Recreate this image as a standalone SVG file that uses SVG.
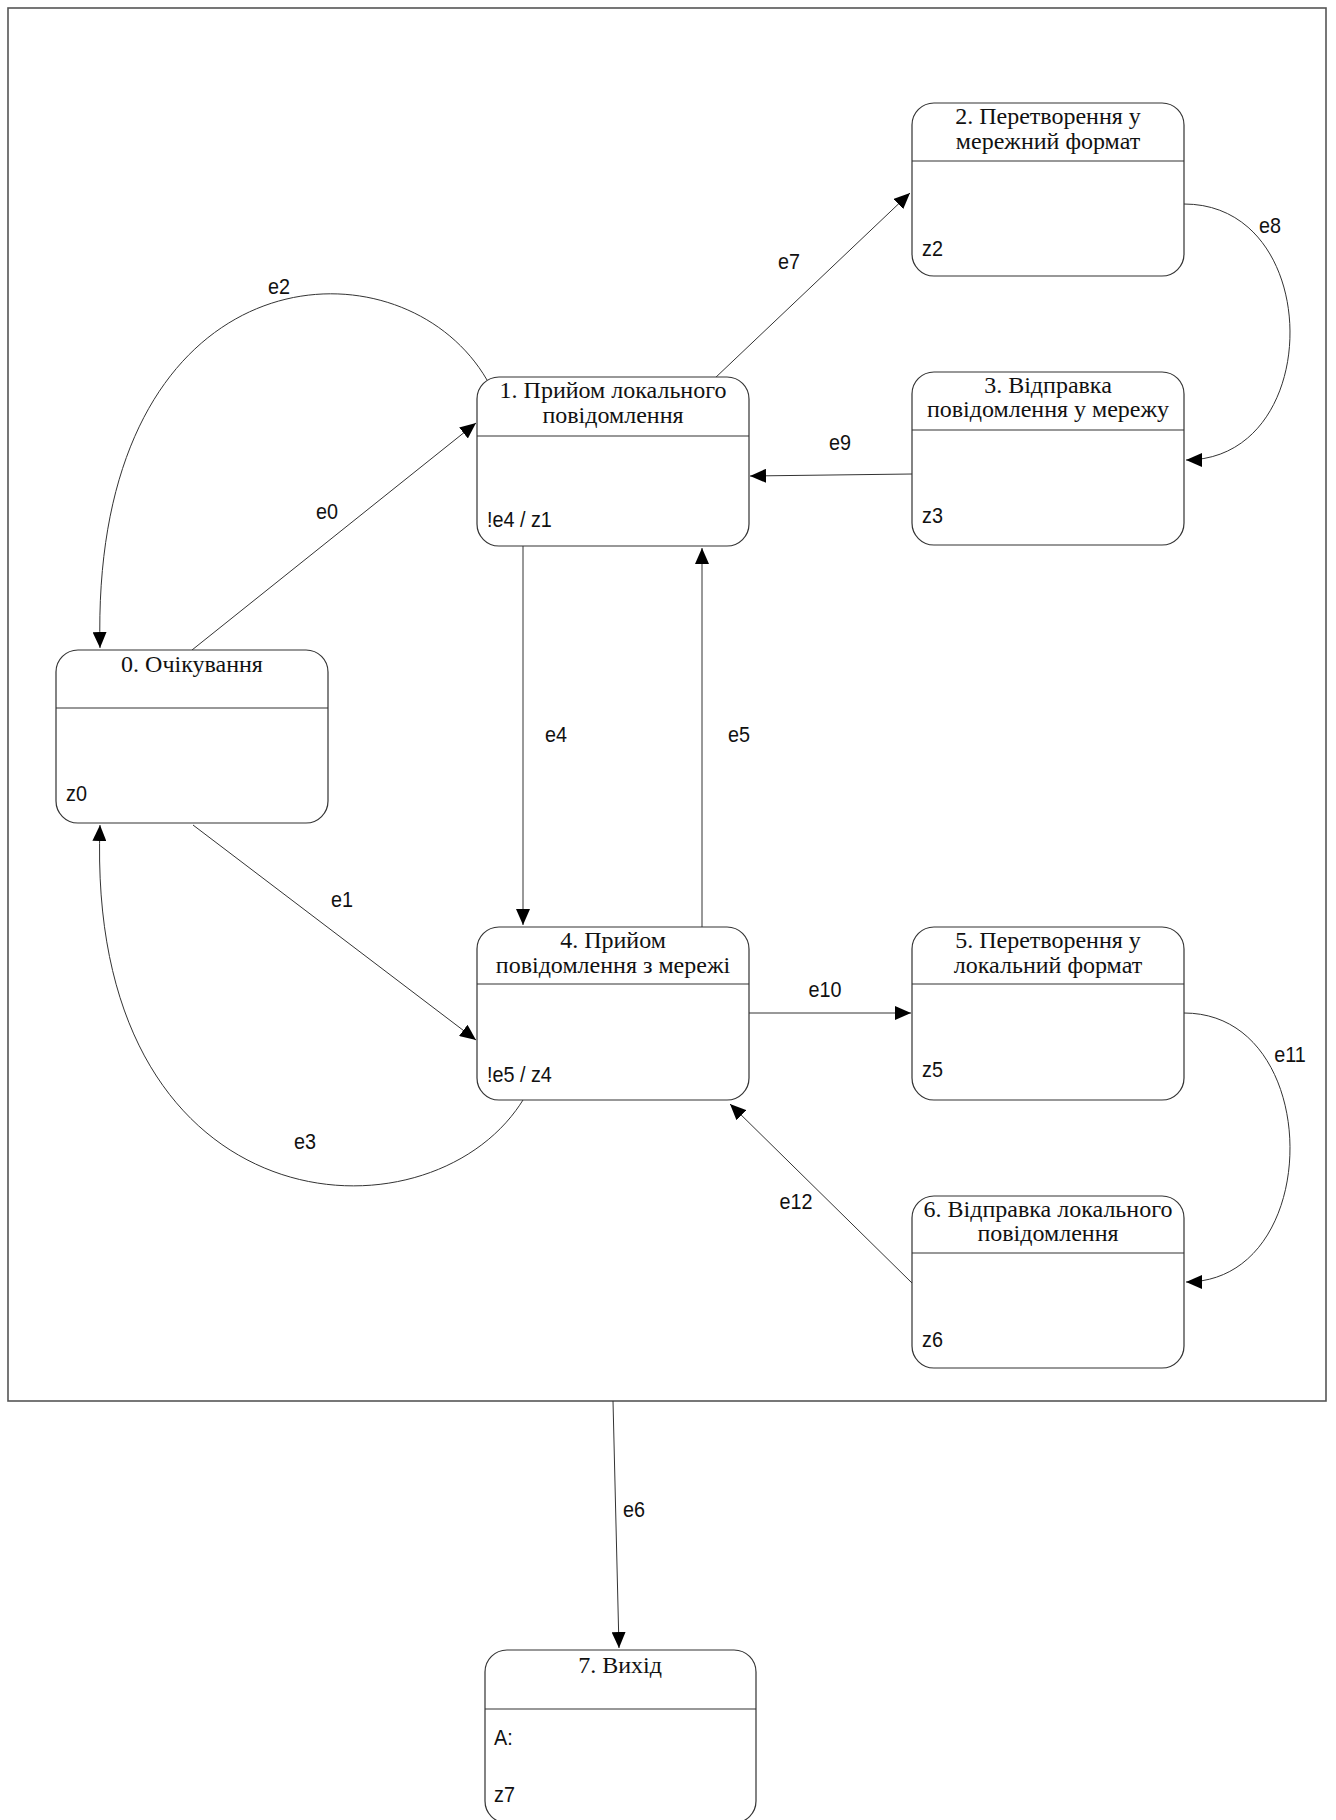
<svg xmlns="http://www.w3.org/2000/svg" width="1336" height="1820" viewBox="0 0 1336 1820">
<style>
.box{fill:#fff;stroke:#333;stroke-width:1.2}
.div{stroke:#333;stroke-width:1.2}
.t{font-family:"Liberation Serif","Times New Roman",serif;font-size:24px;fill:#111;text-anchor:middle}
.a{font-family:"Liberation Sans",Arial,sans-serif;font-size:22px;fill:#111;transform-box:fill-box;transform-origin:left center;transform:scaleX(0.9)}
.lbl{font-family:"Liberation Sans",Arial,sans-serif;font-size:22px;fill:#111;text-anchor:middle;transform-box:fill-box;transform-origin:center;transform:scaleX(0.9)}
.c{fill:none;stroke:#333;stroke-width:1}
</style>
<defs>
<marker id="ar" markerUnits="userSpaceOnUse" markerWidth="18" markerHeight="14" refX="16" refY="7" orient="auto">
<path d="M0,0 L16,7 L0,14 z" fill="#000"/>
</marker>
</defs>
<rect x="0" y="0" width="1336" height="1820" fill="#fff"/>
<rect id="frame" x="8" y="8" width="1318" height="1393" fill="none" stroke="#555" stroke-width="1.6"/>

<g id="connectors">
<path class="c" d="M192,650 L476,423" marker-end="url(#ar)"/>
<path class="c" d="M193,825 L476,1040" marker-end="url(#ar)"/>
<path class="c" d="M487,380 C400,230 90,250 100,648" marker-end="url(#ar)"/>
<path class="c" d="M523,1100 C430,1250 85,1230 100,825" marker-end="url(#ar)"/>
<path class="c" d="M523,546 L523,925" marker-end="url(#ar)"/>
<path class="c" d="M702,927 L702,548" marker-end="url(#ar)"/>
<path class="c" d="M714,379 L910,193" marker-end="url(#ar)"/>
<path class="c" d="M1184,204 C1325,204 1325,460 1186,460" marker-end="url(#ar)"/>
<path class="c" d="M912,474 L750,476" marker-end="url(#ar)"/>
<path class="c" d="M749,1013 L911,1013" marker-end="url(#ar)"/>
<path class="c" d="M1184,1013 C1325,1013 1325,1282 1186,1282" marker-end="url(#ar)"/>
<path class="c" d="M912,1283 L730,1104" marker-end="url(#ar)"/>
<path class="c" d="M613,1401 L619,1648" marker-end="url(#ar)"/>
<text class="lbl" x="327" y="519">e0</text>
<text class="lbl" x="342" y="907">e1</text>
<text class="lbl" x="279" y="294">e2</text>
<text class="lbl" x="305" y="1149">e3</text>
<text class="lbl" x="556" y="742">e4</text>
<text class="lbl" x="739" y="742">e5</text>
<text class="lbl" x="634" y="1517">e6</text>
<text class="lbl" x="789" y="269">e7</text>
<text class="lbl" x="1270" y="233">e8</text>
<text class="lbl" x="840" y="450">e9</text>
<text class="lbl" x="825" y="997">e10</text>
<text class="lbl" x="1290" y="1062">e11</text>
<text class="lbl" x="796" y="1209">e12</text>
</g>

<g id="n0">
<rect class="box" x="56" y="650" width="272" height="173" rx="22"/>
<line class="div" x1="56" y1="708" x2="328" y2="708"/>
<text class="t" x="192" y="672">0. Очікування</text>
<text class="a" x="66" y="801">z0</text>
</g>

<g id="n1">
<rect class="box" x="477" y="377" width="272" height="169" rx="22"/>
<line class="div" x1="477" y1="436" x2="749" y2="436"/>
<text class="t" x="613" y="398">1. Прийом локального</text>
<text class="t" x="613" y="423">повідомлення</text>
<text class="a" x="487" y="527">!e4 / z1</text>
</g>

<g id="n2">
<rect class="box" x="912" y="103" width="272" height="173" rx="22"/>
<line class="div" x1="912" y1="161" x2="1184" y2="161"/>
<text class="t" x="1048" y="124">2. Перетворення у</text>
<text class="t" x="1048" y="149">мережний формат</text>
<text class="a" x="922" y="256">z2</text>
</g>

<g id="n3">
<rect class="box" x="912" y="372" width="272" height="173" rx="22"/>
<line class="div" x1="912" y1="430" x2="1184" y2="430"/>
<text class="t" x="1048" y="393">3. Відправка</text>
<text class="t" x="1048" y="417">повідомлення у мережу</text>
<text class="a" x="922" y="523">z3</text>
</g>

<g id="n4">
<rect class="box" x="477" y="927" width="272" height="173" rx="22"/>
<line class="div" x1="477" y1="984" x2="749" y2="984"/>
<text class="t" x="613" y="948">4. Прийом</text>
<text class="t" x="613" y="973">повідомлення з мережі</text>
<text class="a" x="487" y="1082">!e5 / z4</text>
</g>

<g id="n5">
<rect class="box" x="912" y="927" width="272" height="173" rx="22"/>
<line class="div" x1="912" y1="984" x2="1184" y2="984"/>
<text class="t" x="1048" y="948">5. Перетворення у</text>
<text class="t" x="1048" y="973">локальний формат</text>
<text class="a" x="922" y="1077">z5</text>
</g>

<g id="n6">
<rect class="box" x="912" y="1196" width="272" height="172" rx="22"/>
<line class="div" x1="912" y1="1253" x2="1184" y2="1253"/>
<text class="t" x="1048" y="1217">6. Відправка локального</text>
<text class="t" x="1048" y="1241">повідомлення</text>
<text class="a" x="922" y="1347">z6</text>
</g>

<g id="n7">
<rect class="box" x="485" y="1650" width="271" height="173" rx="22"/>
<line class="div" x1="485" y1="1709" x2="756" y2="1709"/>
<text class="t" x="620" y="1673">7. Вихід</text>
<text class="a" x="494" y="1745">A:</text>
<text class="a" x="494" y="1802">z7</text>
</g>
</svg>
